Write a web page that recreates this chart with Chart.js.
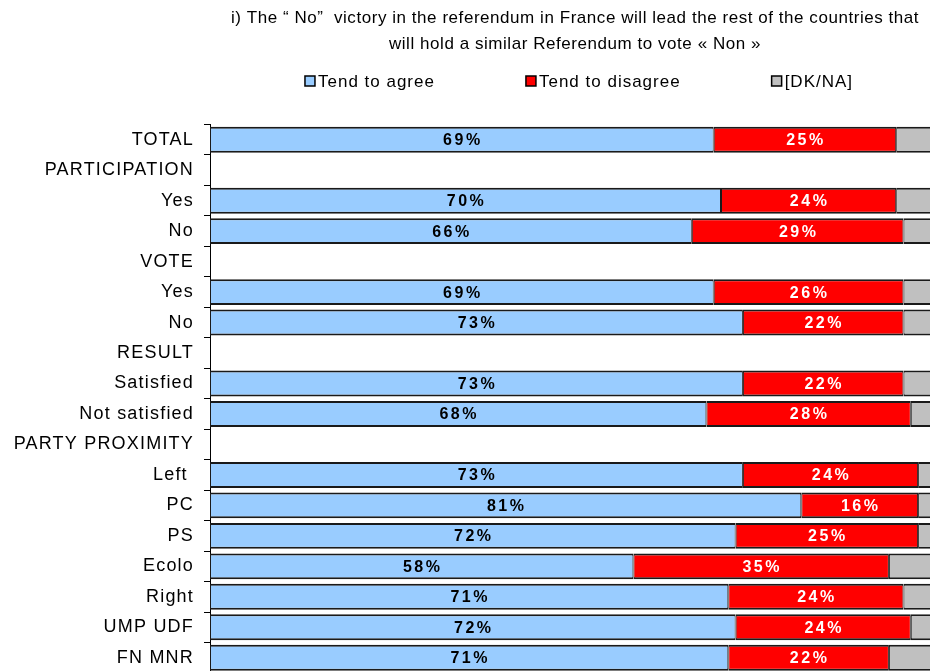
<!DOCTYPE html>
<html>
<head>
<meta charset="utf-8">
<script src="https://cdn.jsdelivr.net/npm/chart.js@4.4.1/dist/chart.umd.min.js"></script>
<style>
  html, body { margin: 0; padding: 0; background: #fff; overflow: hidden; }
  #wrap { width: 940px; height: 673px; }
</style>
</head>
<body>
<div id="wrap"><canvas id="myChart" width="940" height="673"></canvas></div>
<script>
// categories (section headers have no bars)
const categories = ['TOTAL', 'PARTICIPATION', 'Yes', 'No', 'VOTE', 'Yes', 'No', 'RESULT',
	'Satisfied', 'Not satisfied', 'PARTY PROXIMITY', 'Left ', 'PC', 'PS', 'Ecolo', 'Right',
	'UMP UDF', 'FN MNR'];
const agree = [69, null, 70, 66, null, 69, 73, null, 73, 68, null, 73, 81, 72, 58, 71, 72, 71];
const disagree = [25, null, 24, 29, null, 26, 22, null, 22, 28, null, 24, 16, 25, 35, 24, 24, 22];
const dkna = [6, null, 6, 5, null, 5, 5, null, 5, 4, null, 3, 3, 3, 7, 5, 4, 7];
const seriesNames = ['Tend to agree', 'Tend to disagree', '[DK/NA]'];
const titleLines = ['i) The \u201c No\u201d  victory in the referendum in France will lead the rest of the countries that',
	'will hold a similar Referendum to vote \u00ab Non \u00bb'];

const FONT = '"Liberation Sans", Arial, sans-serif';
const barBorder = { top: 2, bottom: 2, left: 1, right: 1 };

/* data labels inside the bars, legend, and letter spacing for the texts */
const barLabels = {
	id: 'barLabels',
	beforeDraw(chart) {
		// title is drawn with this spacing
		chart.ctx.letterSpacing = '0.55px';
	},
	afterDatasetsDraw(chart) {
		const ctx = chart.ctx;
		ctx.save();
		ctx.letterSpacing = '2.5px';
		ctx.font = 'bold 16px ' + FONT;
		ctx.textAlign = 'center';
		ctx.textBaseline = 'middle';
		[0, 1].forEach((di) => {
			const ds = chart.data.datasets[di];
			chart.getDatasetMeta(di).data.forEach((bar, i) => {
				if (ds.data[i] == null) return;
				ctx.fillStyle = di === 0 ? '#000' : '#fff';
				ctx.fillText(ds.data[i] + '%', (bar.x + bar.base) / 2 + 1, bar.y + 1);
			});
		});
		ctx.restore();
		// y tick labels are drawn after this (z: 1)
		ctx.letterSpacing = '1.2px';
	},
	afterDraw(chart) {
		// legend row, centred over the plot area
		const ctx = chart.ctx;
		ctx.save();
		ctx.letterSpacing = '1px';
		ctx.font = '17px ' + FONT;
		ctx.textBaseline = 'middle';
		const gap = 91;
		const items = chart.data.datasets.map((ds) => ({
			text: ds.label,
			color: ds.backgroundColor,
			w: 13 + ctx.measureText(ds.label).width,
		}));
		const total = items.reduce((s, it) => s + it.w, 0) + gap * (items.length - 1);
		let x = (chart.chartArea.left + chart.chartArea.right) / 2 - total / 2 + 4;
		const y = 81;
		items.forEach((it) => {
			ctx.fillStyle = it.color;
			ctx.fillRect(x, y - 5, 10, 10);
			ctx.strokeStyle = '#000';
			ctx.lineWidth = 1.5;
			ctx.strokeRect(x, y - 5, 10, 10);
			ctx.fillStyle = '#000';
			ctx.textAlign = 'left';
			ctx.fillText(it.text, x + 13, y + 1);
			x += it.w + gap;
		});
		ctx.restore();
	},
};

const data = {
	labels: categories,
	datasets: [
		{ label: seriesNames[0], data: agree, backgroundColor: '#99CCFF' },
		{ label: seriesNames[1], data: disagree, backgroundColor: '#FF0000' },
		{ label: seriesNames[2], data: dkna, backgroundColor: '#C0C0C0' },
	].map((ds) => Object.assign(ds, {
		borderColor: '#1a1a1a',
		borderWidth: barBorder,
		borderSkipped: false,
		barPercentage: 0.85,
		categoryPercentage: 1,
	})),
};

const config = {
	type: 'bar',
	data: data,
	options: {
		indexAxis: 'y',
		responsive: false,
		animation: false,
		layout: { padding: 0 },
		plugins: {
			legend: { display: false },
			tooltip: { enabled: false },
			title: {
				display: true,
				text: titleLines,
				fullSize: false,
				color: '#000',
				font: { family: FONT, size: 17, weight: 'normal', lineHeight: '26px' },
				padding: { top: 5, bottom: 67.5 },
			},
		},
		scales: {
			x: {
				stacked: true,
				display: false,
				min: 0,
				max: 100,
			},
			y: {
				stacked: true,
				afterFit: (scale) => {
					scale.width = 210;
					scale.paddingTop = 0;
					scale.paddingBottom = 0;
				},
				border: { display: true, color: '#000', width: 1 },
				grid: {
					display: true,
					offset: true,
					drawOnChartArea: false,
					drawTicks: true,
					tickLength: 6,
					color: '#000',
				},
				ticks: {
					z: 1,
					color: '#000',
					padding: 10,
					font: { family: FONT, size: 18 },
				},
			},
		},
	},
	plugins: [barLabels],
};

const context = document.getElementById('myChart').getContext('2d');
const chart = new Chart(context, config);
</script>
</body>
</html>
